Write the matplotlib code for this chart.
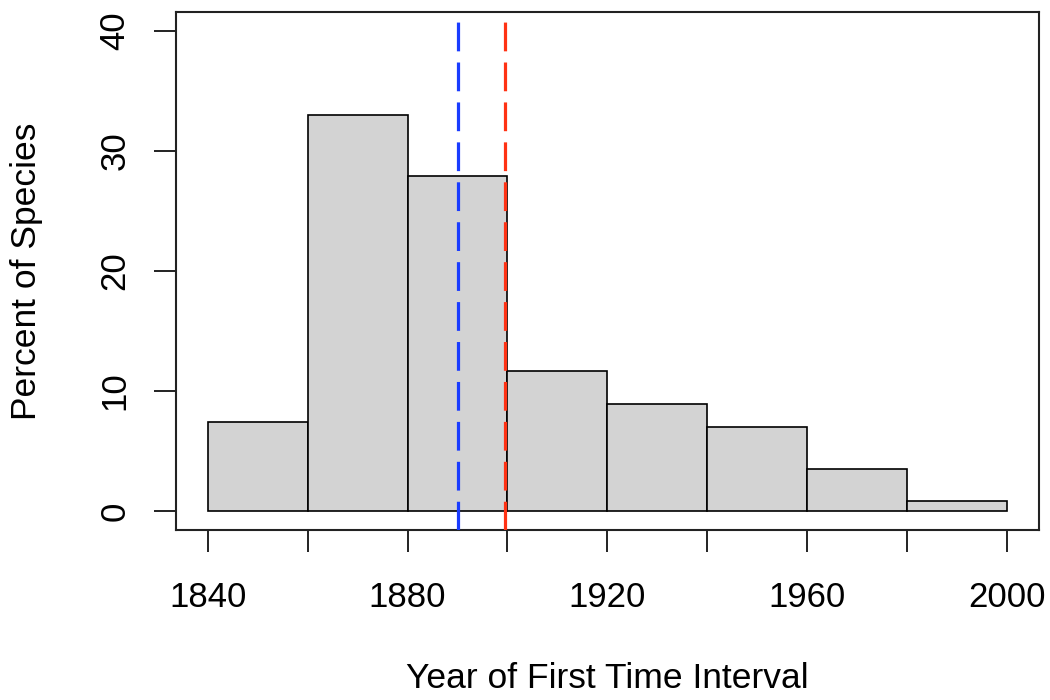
import matplotlib
matplotlib.use("Agg")
import matplotlib.pyplot as plt
import numpy as np

# histogram of first-record years, 20-year bins
bin_starts = [1840, 1860, 1880, 1900, 1920, 1940, 1960, 1980]
percent = [7.4, 33.0, 27.9, 11.7, 8.9, 7.0, 3.5, 0.8]
bin_width = 20
median_year = 1890
mean_year = 1899.6

plt.rcParams['font.family'] = ['Liberation Sans', 'DejaVu Sans']

fig = plt.figure(figsize=(10.5, 7), dpi=100)
ax = fig.add_axes([176 / 1050, 1 - 530 / 700, (1038.5 - 176) / 1050, 518 / 700])

ax.bar(bin_starts, percent, width=bin_width, align='edge',
       color='#d3d3d3', edgecolor='black', linewidth=1.2, zorder=2)

ax.axvline(median_year, color='#1a3cff', linewidth=2.3, dashes=(9, 3.5), zorder=3)
ax.axvline(mean_year, color='#ff3214', linewidth=2.3, dashes=(9, 3.5), zorder=3)

ax.set_xlim(1833.6, 2006.4)
ax.set_ylim(-1.6, 41.6)

xt = np.arange(1840, 2001, 20)
ax.set_xticks(xt)
ax.set_xticklabels([str(v) if (v - 1840) % 40 == 0 else '' for v in xt])
ax.set_yticks([0, 10, 20, 30, 40])
ax.set_yticklabels(['0', '10', '20', '30', '40'], rotation=90, va='center')

ax.tick_params(axis='both', direction='out', length=16, width=1.4,
               labelsize=25, color='#222222')
ax.tick_params(axis='x', pad=21)
ax.tick_params(axis='y', pad=16)

for s in ax.spines.values():
    s.set_linewidth(1.5)
    s.set_color('#222222')

ax.set_xlabel("Year of First Time Interval", fontsize=25.5, labelpad=34)
ax.set_ylabel("Percent of Species", fontsize=25.5, labelpad=40)

fig.savefig("out.png", dpi=100)
